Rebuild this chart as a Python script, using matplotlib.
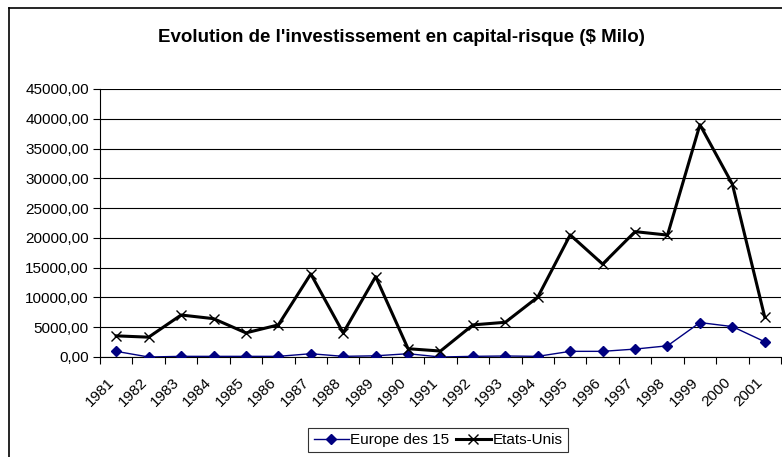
import matplotlib.pyplot as plt
import matplotlib.transforms as mtransforms
from matplotlib.lines import Line2D
import numpy as np

plt.rcParams['font.family'] = ['Liberation Sans', 'DejaVu Sans']

years = [str(y) for y in range(1981, 2002)]
europe = [950, 0, 110, 110, 110, 110, 550, 110, 200, 550, 0,
          110, 170, 110, 950, 950, 1330, 1880, 5780, 5110, 2560]
usa = [3550, 3330, 7050, 6440, 4050, 5390, 13950, 4050, 13500, 1390, 1000,
       5390, 5830, 10060, 20500, 15600, 21050, 20470, 39000, 29030, 6660]

fig = plt.figure(figsize=(7.82, 4.57), dpi=100)
ax = fig.add_axes([100 / 782, 1 - 357 / 457, 681 / 782, 268 / 457])

x = np.arange(len(years))
ax.plot(x, europe, color='#000080', lw=1, marker='D', ms=5.5,
        mfc='#000080', mec='#000080', label='Europe des 15', zorder=3)
ax.plot(x, usa, color='black', lw=2.2, marker='x', ms=7, mew=1,
        label='Etats-Unis', zorder=4)

ax.set_xlim(-0.5, len(years) - 0.5)
ax.set_ylim(0, 45000)
yt = np.arange(0, 45001, 5000)
ax.set_yticks(yt)
ax.set_yticklabels([f"{v:.2f}".replace('.', ',') for v in yt], fontsize=11)
ax.grid(axis='y', color='black', lw=0.8)
ax.set_axisbelow(True)

# ticks between categories, labels at centres
ax.set_xticks(np.arange(-0.5, len(years)), minor=False)
ax.set_xticklabels([])
ax.set_xticks(x, minor=True)
ax.set_xticklabels(years, minor=True, rotation=45, ha='right',
                   va='center', rotation_mode='anchor', fontsize=11)
ax.tick_params(axis='x', which='major', length=5, width=0.8, direction='out')
ax.tick_params(axis='x', which='minor', length=0, pad=17)
ax.tick_params(axis='y', length=5, width=0.8, pad=3)
off = mtransforms.ScaledTranslation(-4 / 100, 0, fig.dpi_scale_trans)
for lab in ax.get_xticklabels(minor=True):
    lab.set_transform(lab.get_transform() + off)

for s in ['top', 'right']:
    ax.spines[s].set_visible(False)
ax.spines['left'].set_linewidth(0.8)
ax.spines['bottom'].set_linewidth(0.8)

fig.text(401 / 782, 1 - 37 / 457,
         "Evolution de l'investissement en capital-risque ($ Milo)",
         ha='center', va='center', fontsize=13.5, fontweight='bold')

# chart frame (left and top visible)
fig.add_artist(Line2D([9 / 782, 9 / 782], [0, 1 - 8 / 457], color='black', lw=1.2))
fig.add_artist(Line2D([9 / 782, 1], [1 - 8 / 457, 1 - 8 / 457], color='black', lw=1.2))

leg = fig.legend(loc='center', bbox_to_anchor=(438 / 782, 1 - 440 / 457),
                 ncol=2, fontsize=11, frameon=True, fancybox=False,
                 edgecolor='black', handlelength=2.3, handletextpad=0.1,
                 columnspacing=0.4, borderpad=0.35, borderaxespad=0)
leg.get_frame().set_linewidth(0.8)

fig.savefig('out.png', dpi=100)
